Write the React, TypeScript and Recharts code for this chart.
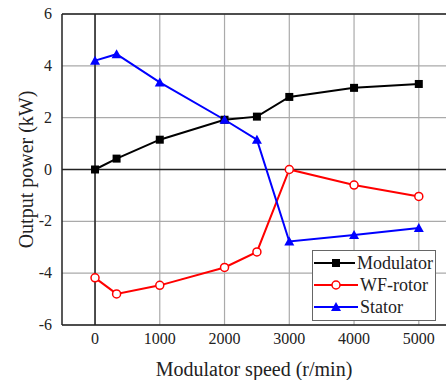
import React from "react"
import {
  LineChart,
  Line,
  XAxis,
  YAxis,
  CartesianGrid,
  ReferenceLine,
  Legend,
} from "recharts"

const speeds = [0, 333, 1000, 2000, 2500, 3000, 4000, 5000]
const modulator = [0, 0.42, 1.15, 1.92, 2.04, 2.8, 3.15, 3.3]
const wfRotor = [-4.18, -4.8, -4.47, -3.78, -3.18, 0, -0.6, -1.04]
const stator = [4.2, 4.45, 3.36, 1.92, 1.15, -2.78, -2.53, -2.26]

const xTicks = [0, 1000, 2000, 3000, 4000, 5000]
const yTicks = [-6, -4, -2, 0, 2, 4, 6]

const data = speeds.map((s, i) => ({
  speed: s,
  modulator: modulator[i],
  wfRotor: wfRotor[i],
  stator: stator[i],
}))

const FONT = "Liberation Serif, serif"
const TXT = "#222"

function SquareDot(props: any) {
  const { cx, cy, index } = props
  return <rect key={`sq-${index}`} x={cx - 4} y={cy - 4} width={8} height={8} fill="#000" />
}

function CircleDot(props: any) {
  const { cx, cy, index } = props
  return <circle key={`ci-${index}`} cx={cx} cy={cy} r={4} fill="#fff" stroke="#ff0000" strokeWidth={1.5} />
}

function TriangleDot(props: any) {
  const { cx, cy, index } = props
  return (
    <polygon
      key={`tr-${index}`}
      points={`${cx},${cy - 5} ${cx - 5},${cy + 4} ${cx + 5},${cy + 4}`}
      fill="#0000ff"
    />
  )
}

function XTick(props: any) {
  const { x, y, payload } = props
  return (
    <text x={x} y={y + 11} textAnchor="middle" style={{ fontFamily: FONT, fontSize: 16, fill: TXT }}>
      {payload.value}
    </text>
  )
}

function YTick(props: any) {
  const { x, y, payload } = props
  return (
    <text x={x - 2} y={y + 5} textAnchor="end" style={{ fontFamily: FONT, fontSize: 16, fill: TXT }}>
      {payload.value}
    </text>
  )
}

function LegendMarker({ kind, color }: { kind: string; color: string }) {
  return (
    <svg width={44} height={12} style={{ display: "block" }}>
      <line x1={0} y1={6} x2={44} y2={6} stroke={color} strokeWidth={2} />
      {kind === "square" && <rect x={18} y={2} width={8} height={8} fill={color} />}
      {kind === "circle" && <circle cx={22} cy={6} r={4} fill="#fff" stroke={color} strokeWidth={1.5} />}
      {kind === "triangle" && <polygon points="22,1 17,10 27,10" fill={color} />}
    </svg>
  )
}

const legendItems = [
  { name: "Modulator", color: "#000000", kind: "square" },
  { name: "WF-rotor", color: "#ff0000", kind: "circle" },
  { name: "Stator", color: "#0000ff", kind: "triangle" },
]

function LegendBox() {
  return (
    <div
      style={{
        border: "1px solid #666",
        background: "#fff",
        padding: "1px 2px 2px 1px",
        width: 124,
        boxSizing: "border-box",
      }}
    >
      {legendItems.map((it) => (
        <div key={it.name} style={{ display: "flex", alignItems: "center", height: 22 }}>
          <LegendMarker kind={it.kind} color={it.color} />
          <span style={{ marginLeft: 2, fontFamily: FONT, fontSize: 18, color: TXT, lineHeight: "20px" }}>
            {it.name}
          </span>
        </div>
      ))}
    </div>
  )
}

export default function App() {
  return (
    <div
      style={{
        position: "absolute",
        left: 0,
        top: 0,
        width: 446,
        height: 380,
        background: "#fff",
      }}
    >
      <LineChart
        width={446}
        height={380}
        data={data}
        margin={{ top: 14, right: 0, left: 0, bottom: 0 }}
      >
        <CartesianGrid stroke="#aaa" strokeWidth={1.2} horizontalValues={yTicks} verticalValues={xTicks} />
        <XAxis
          dataKey="speed"
          type="number"
          domain={[-510, 5420]}
          ticks={xTicks}
          allowDataOverflow
          tickLine={false}
          axisLine={{ stroke: "#222", strokeWidth: 1.5 }}
          tick={<XTick />}
          height={55}
          label={{
            value: "Modulator speed (r/min)",
            position: "insideBottom",
            offset: 4,
            style: { fontSize: 20, fill: TXT, fontFamily: FONT },
          }}
        />
        <YAxis
          type="number"
          domain={[-6, 6]}
          ticks={yTicks}
          tickLine={false}
          axisLine={{ stroke: "#222", strokeWidth: 1.5 }}
          tick={<YTick />}
          width={62}
          label={{
            value: "Output power (kW)",
            angle: -90,
            position: "insideLeft",
            offset: 26,
            style: { fontSize: 20, fill: TXT, fontFamily: FONT, textAnchor: "middle" },
          }}
        />
        <ReferenceLine x={0} stroke="#222" strokeWidth={1.5} />
        <ReferenceLine y={0} stroke="#222" strokeWidth={1.5} />
        <ReferenceLine y={6} stroke="#222" strokeWidth={1.5} />
        <Line
          dataKey="modulator"
          name="Modulator"
          stroke="#000"
          strokeWidth={2}
          dot={SquareDot}
          isAnimationActive={false}
        />
        <Line
          dataKey="wfRotor"
          name="WF-rotor"
          stroke="#ff0000"
          strokeWidth={2}
          dot={CircleDot}
          isAnimationActive={false}
        />
        <Line
          dataKey="stator"
          name="Stator"
          stroke="#0000ff"
          strokeWidth={2}
          dot={TriangleDot}
          isAnimationActive={false}
        />
        <Legend
          layout="vertical"
          align="center"
          verticalAlign="middle"
          content={() => <LegendBox />}
          wrapperStyle={{ position: "absolute", left: 312, top: 250, width: 124 }}
        />
      </LineChart>
    </div>
  )
}
